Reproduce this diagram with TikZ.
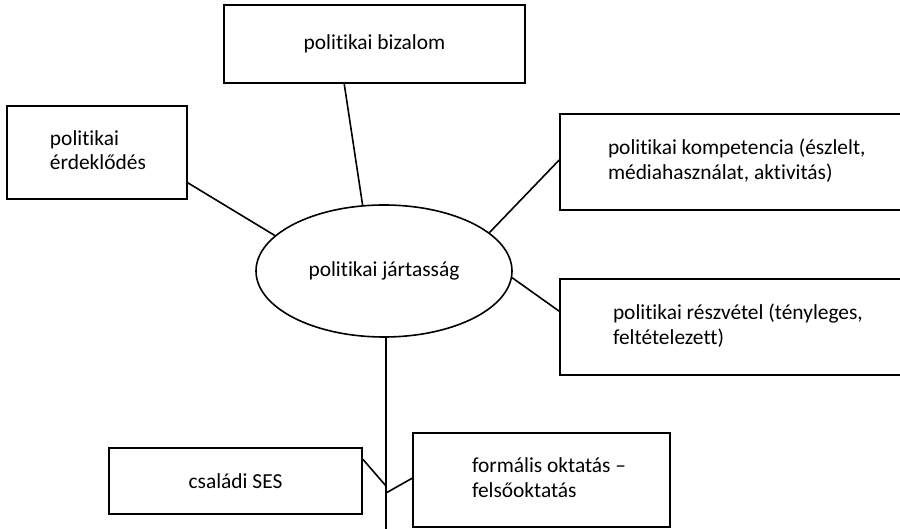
\documentclass[tikz,border=0pt]{standalone}
\usepackage{fontspec}
\setmainfont{Carlito}[Ligatures={NoCommon,NoContextual}]
\usetikzlibrary{shapes.geometric}
\newcommand{\lbox}[3]{\makebox[#2][l]{\hspace*{#1}\begin{tabular}{@{}l@{}}#3\end{tabular}}}
\tikzset{
  box/.style={draw, line width=1.6pt, rectangle, inner sep=0pt},
  conn/.style={line width=1.6pt},
  txt/.style={font=\fontsize{21.4}{24.5}\selectfont}
}
\begin{document}
\begin{tikzpicture}[x=1pt,y=-1pt]
\useasboundingbox (0,0) rectangle (900,529);
\node[box,txt,minimum width=301pt,minimum height=78pt] (biz) at (374.5,44) {politikai bizalom};
\node[box,txt,minimum height=93pt] (erd) at (97,152.5) {\lbox{43pt}{180pt}{politikai\\érdeklődés}};
\node[box,txt,minimum height=96pt] (comp) at (780,162) {\lbox{48pt}{440pt}{politikai kompetencia (észlelt,\\médiahasználat, aktivitás)}};
\node[box,txt,minimum height=96pt] (part) at (780,327) {\lbox{53pt}{440pt}{politikai részvétel (tényleges,\\feltételezett)}};
\node[draw,line width=1.6pt,ellipse,txt,minimum width=256pt,minimum height=132pt,inner sep=0pt] (ell) at (384,271) {politikai jártasság};
\node[box,txt,minimum width=253pt,minimum height=66pt] (ses) at (235.5,481) {családi SES};
\node[box,txt,minimum height=94pt] (form) at (541.5,480) {\lbox{59pt}{257pt}{formális oktatás –\\felsőoktatás}};
\coordinate (bot) at (386,535);
\coordinate (j1) at (386,486);
\coordinate (j2) at (386,493);
\draw[conn] ([xshift=121pt]biz.south west) -- (ell.108);
\draw[conn] ([yshift=17pt]erd.south east) -- (ell.162);
\draw[conn] ([yshift=2pt]comp.west) -- (ell.20);
\draw[conn] ([yshift=-33pt]part.north west) -- (ell.-3);
\draw[conn] ([xshift=2pt]ell.south) -- (bot);
\draw[conn] ([yshift=-12pt]ses.north east) -- (j1);
\draw[conn] ([yshift=-46pt]form.north west) -- (j2);
\end{tikzpicture}
\end{document}
